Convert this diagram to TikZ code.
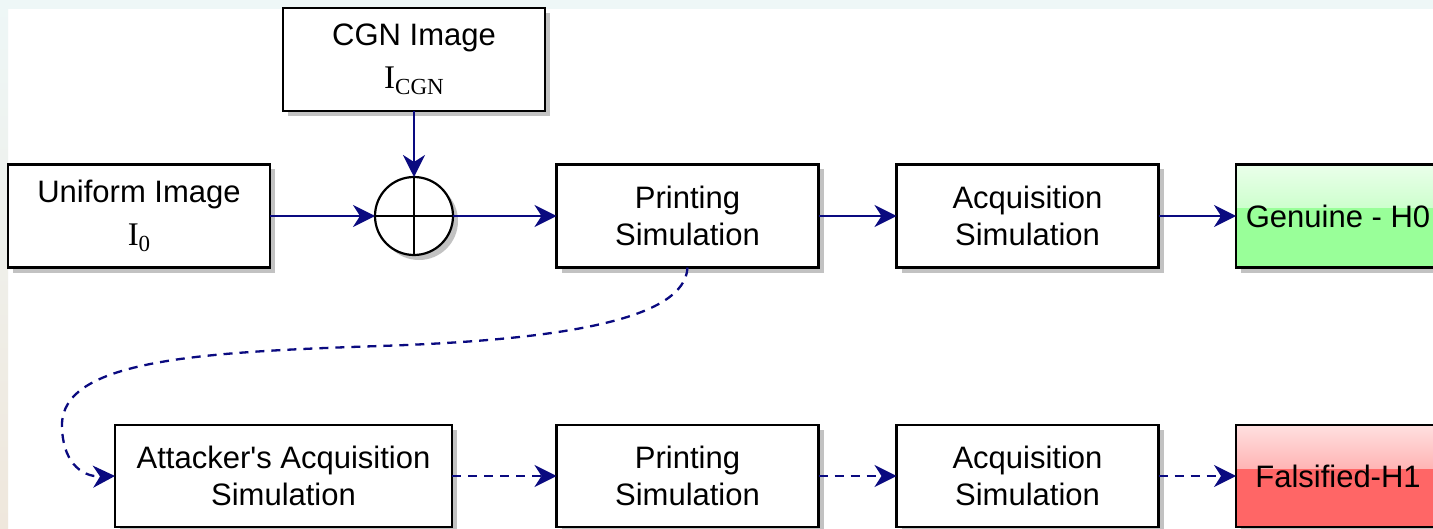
\documentclass[tikz,border=0pt]{standalone}
\usepackage{fontspec}
\setmainfont{Liberation Sans}
\newfontfamily\tnrfont{Liberation Serif}
\usetikzlibrary{arrows.meta,shadows}

\definecolor{navyline}{HTML}{0A0A80}
\definecolor{okgreen}{HTML}{99FF99}
\definecolor{badred}{HTML}{FF6666}
\definecolor{edgecyan}{HTML}{EEF7F7}
\definecolor{edgebeige}{HTML}{EFE7DC}

% image symbol I with a lowered index, set in a Times-like face
\newcommand{\ivar}[1]{{\tnrfont\fontsize{16.5}{18}\selectfont I\raisebox{-3pt}{\fontsize{11.5}{12}\selectfont #1}}}
% straight apostrophe glyph, bypassing the TeX quote mapping
\newcommand{\sq}{{\XeTeXglyph\XeTeXcharglyph"27\relax}}

\begin{document}
\begin{tikzpicture}[x=0.5pt,y=-0.5pt,
  stepbox/.style={draw=black, line width=1.1pt, fill=white,
    minimum width=131pt, minimum height=51.5pt, inner sep=0pt, outer sep=0pt,
    align=center, font=\fontsize{15.5}{18.5}\selectfont,
    drop shadow={shadow xshift=2.5pt, shadow yshift=-2.5pt, fill=black!24, opacity=1}},
  gloss/.style={path picture={
    \shade[top color=white!80!#1, bottom color=white!12!#1]
      (path picture bounding box.north west) rectangle ([yshift=4pt]path picture bounding box.east);}},
  flow/.style={draw=navyline, line width=1.15pt,
    -{Stealth[length=11pt,width=11pt,inset=3.5pt]}},
  attack/.style={flow, dash pattern=on 4.5pt off 3.5pt}
]
\useasboundingbox (0,0) rectangle (1433,529);
\clip (0,0) rectangle (1433,529);

% page background with thin tinted margins
\fill[white] (0,0) rectangle (1433,529);
\fill[edgecyan] (0,0) rectangle (1433,9);
\shade[top color=edgecyan, bottom color=edgebeige] (0,0) rectangle (8,529);

% genuine chain
\node[stepbox] (cgn) at (414,59.5) {CGN Image\\[3pt]\ivar{CGN}};
\node[stepbox] (uni) at (139,216) {Uniform Image\\[3pt]\ivar{0}};
\node[circle, draw=black, line width=1.1pt, fill=white, minimum size=39pt,
      inner sep=0pt, outer sep=0pt,
      drop shadow={shadow xshift=2.5pt, shadow yshift=-2.5pt, fill=black!24, opacity=1},
      path picture={
        \draw[line width=1.1pt] (path picture bounding box.north) -- (path picture bounding box.south);
        \draw[line width=1.1pt] (path picture bounding box.west) -- (path picture bounding box.east);}]
      (sum) at (414,216) {};
\node[stepbox] (pr1) at (687.5,216) {Printing\\Simulation};
\node[stepbox] (acq1) at (1027.5,216) {Acquisition\\Simulation};
\node[stepbox, minimum width=102pt, fill=okgreen, gloss=okgreen] (gen) at (1338,216) {Genuine - H0};

% attack chain
\node[stepbox, minimum width=168.5pt, minimum height=51pt] (att) at (283.5,476) {Attacker\sq s Acquisition\\Simulation};
\node[stepbox, minimum height=51pt] (pr2) at (687.5,476) {Printing\\Simulation};
\node[stepbox, minimum height=51pt] (acq2) at (1027.5,476) {Acquisition\\Simulation};
\node[stepbox, minimum width=102pt, minimum height=51pt, fill=badred, gloss=badred] (fal) at (1338,476) {Falsified-H1};

% connectors
\draw[flow] (cgn) -- (sum);
\draw[flow] (uni) -- (sum);
\draw[flow] (sum) -- (pr1);
\draw[flow] (pr1) -- (acq1);
\draw[flow] (acq1) -- (gen);

\draw[attack] (pr1.south) .. controls (685,320) and (560,340) .. (380,346)
  .. controls (200,352) and (62,360) .. (62,425)
  .. controls (62,460) and (80,477) .. (att.west);
\draw[attack] (att) -- (pr2);
\draw[attack] (pr2) -- (acq2);
\draw[attack] (acq2) -- (fal);
\end{tikzpicture}
\end{document}
